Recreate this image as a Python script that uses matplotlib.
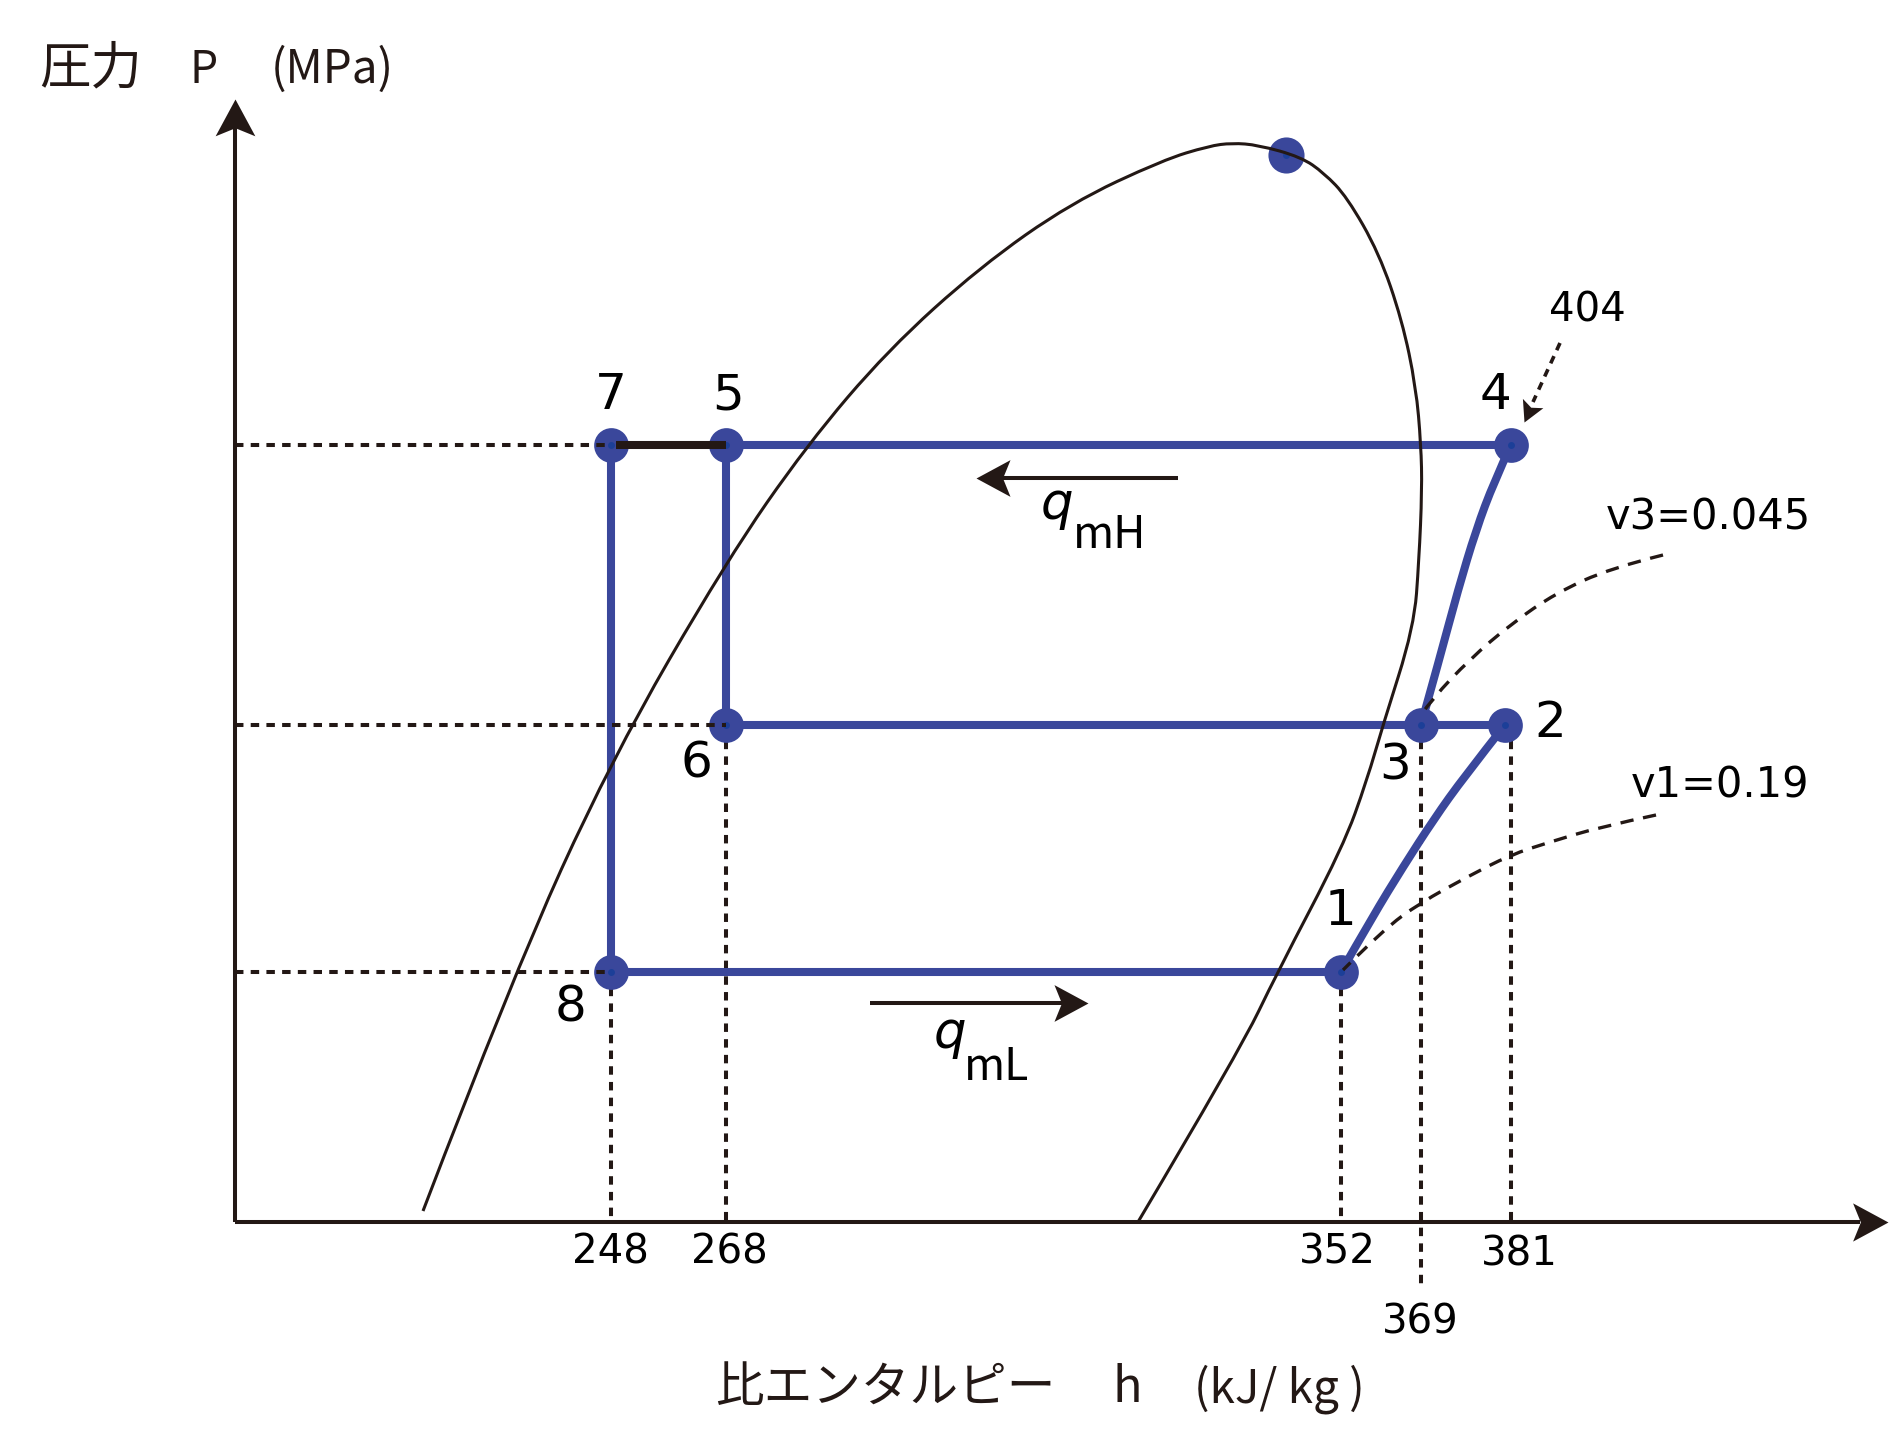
import numpy as np
import matplotlib
matplotlib.use("Agg")
import matplotlib.pyplot as plt
from matplotlib.path import Path
from matplotlib.patches import PathPatch
from matplotlib.markers import MarkerStyle
from matplotlib.transforms import Affine2D

plt.rcParams['font.family'] = ['Noto Sans CJK JP', 'DejaVu Sans']

BLUE = '#3a479b'
INK = '#231815'
NUM = 'DejaVu Sans'

# cycle states, schematic position (h along x, P along y)
state_names = ['1', '2', '3', '4', '5', '6', '7', '8']
state_h = [1106, 1270, 1186, 1276, 491, 491, 376, 376]
state_p = [250, 497, 497, 777, 777, 497, 777, 250]

# saturation dome (liquid line -> critical point -> vapour line)
sat_h = [188, 277, 376, 492, 572, 653, 745, 836, 928, 974, 997, 1023, 1066, 1089,
         1112, 1144, 1167, 1181, 1186, 1187, 1184, 1179, 1148, 1132, 1108, 1042, 1005, 903]
sat_p = [11, 244, 462, 662, 777, 872, 955, 1019, 1062, 1076, 1079, 1077, 1065, 1049,
         1025, 969, 902, 835, 777, 732, 662, 595, 497, 442, 375, 249, 172, 0]
crit_h, crit_p = 1051, 1067

# compression 1->2 and 3->4
comp_low_h = [1106, 1138, 1168, 1199, 1229, 1270]
comp_low_p = [250, 306, 355, 403, 445, 497]
comp_high_h = [1186, 1205, 1223, 1241, 1259, 1276]
comp_high_p = [497, 565, 632, 692, 740, 777]

# specific volume lines
v3_h = [1428, 1376, 1321, 1276, 1235, 1197, 1186]
v3_p = [667, 654, 629, 598, 563, 523, 507]
v1_h = [1421, 1365, 1315, 1275, 1232, 1185, 1148, 1108]
v1_p = [407, 395, 380, 367, 345, 319, 292, 252]

# enthalpy values (kJ/kg) written under the axis
h_values = ['248', '268', '352', '369', '381']
h_value_x = [375, 494, 1102, 1185, 1284]
h_value_y = [-31, -31, -31, -101, -33]

label_x = [1105, 1315, 1160, 1260, 493, 461, 376, 336]
label_y = [311, 499, 456, 827, 827, 458, 827, 215]


def head(angle, notch=0.78, half=0.54):
    verts = [(0, 0), (-1, half), (-notch, 0), (-1, -half), (0, 0)]
    codes = [Path.MOVETO, Path.LINETO, Path.LINETO, Path.LINETO, Path.CLOSEPOLY]
    return MarkerStyle(Path(verts, codes), transform=Affine2D().rotate_deg(angle))


def curve(xs, ys):
    # quadratic b-spline through the read points
    pts = np.column_stack([xs, ys]).astype(float)
    verts = [pts[0]]
    codes = [Path.MOVETO]
    for i in range(1, len(pts) - 1):
        end = (pts[i] + pts[i + 1]) / 2 if i < len(pts) - 2 else pts[i + 1]
        verts += [pts[i], end]
        codes += [Path.CURVE3, Path.CURVE3]
    return Path(verts, codes)


fig = plt.figure(figsize=(18.89, 14.31), dpi=100)
ax = fig.add_axes([0, 0, 1, 1])
ax.set_xlim(-235, 1654)
ax.set_ylim(-209, 1222)
ax.axis('off')

# axes with arrow heads
ax.plot([0, 0], [0, 1095], color=INK, lw=2.9, solid_capstyle='butt')
ax.plot([0, 1625], [0, 0], color=INK, lw=2.9, solid_capstyle='butt')
ax.plot(0, 1123, marker=head(90), ms=53, color=INK, mew=0)
ax.plot(1653, 0, marker=head(0), ms=51, color=INK, mew=0)

# guide lines
guide = dict(color=INK, lw=2.9, dashes=(2.1, 1.8))
for i in [6, 5, 7]:
    ax.plot([0, state_h[i]], [state_p[i], state_p[i]], zorder=6, **guide)
ax.plot([state_h[7], state_h[7]], [state_p[7], 0], zorder=2, **guide)
ax.plot([state_h[5], state_h[5]], [state_p[5], 0], zorder=2, **guide)
ax.plot([state_h[0], state_h[0]], [state_p[0], 0], zorder=2, **guide)
ax.plot([state_h[2], state_h[2]], [state_p[2], -66], zorder=2, **guide)
ax.plot([state_h[3], state_h[3]], [state_p[1], 0], zorder=2, **guide)

# cycle lines
cyc = dict(color=BLUE, lw=5.8, solid_capstyle='butt', zorder=3)
ax.plot([state_h[4], state_h[3]], [state_p[4], state_p[3]], **cyc)
ax.plot([state_h[6], state_h[7]], [state_p[6], state_p[7]], **cyc)
ax.plot([state_h[4], state_h[5]], [state_p[4], state_p[5]], **cyc)
ax.plot([state_h[5], state_h[1]], [state_p[5], state_p[1]], **cyc)
ax.plot([state_h[7], state_h[0]], [state_p[7], state_p[0]], **cyc)
for xs, ys in [(comp_low_h, comp_low_p), (comp_high_h, comp_high_p)]:
    ax.add_patch(PathPatch(curve(xs, ys), fill=False, edgecolor=BLUE, lw=5.8,
                           capstyle='butt', zorder=3))
ax.plot(state_h, state_p, 'o', ms=25, color=BLUE, mew=0, zorder=4)
ax.plot(state_h, state_p, 'o', ms=5, color='#1c3f98', mew=0, zorder=4)
ax.plot([state_h[6] + 5, state_h[4]], [state_p[6], state_p[4]], color=INK, lw=5.8,
        solid_capstyle='butt', zorder=5)

# saturation dome
ax.plot(crit_h, crit_p, 'o', ms=26, color=BLUE, mew=0, zorder=4)
ax.plot(crit_h, crit_p, 'o', ms=5, color='#1c3f98', mew=0, zorder=4)
ax.add_patch(PathPatch(curve(sat_h, sat_p), fill=False, edgecolor=INK, lw=2.2, zorder=5))

# specific volume curves and the 404 pointer
for xs, ys in [(v3_h, v3_p), (v1_h, v1_p)]:
    ax.add_patch(PathPatch(curve(xs, ys), fill=False, edgecolor=INK, lw=2.4,
                           linestyle=(0, (4.0, 2.9)), zorder=6))
ax.plot([1325, 1298], [879, 820], color=INK, lw=2.6, dashes=(2.2, 1.8), zorder=6)
ax.plot(1289, 800, marker=head(-114.5), ms=30, color=INK, mew=0, zorder=6)

# heat flow arrows
ax.plot([943, 766], [744, 744], color=INK, lw=2.9, solid_capstyle='butt')
ax.plot(741, 744, marker=head(180), ms=49, color=INK, mew=0)
ax.plot([635, 828], [219, 219], color=INK, lw=2.9, solid_capstyle='butt')
ax.plot(853, 219, marker=head(0), ms=49, color=INK, mew=0)
ax.text(806, 703, 'q', family='DejaVu Sans', style='italic', fontsize=37, color='black',
        ha='left', va='baseline')
ax.text(838, 674, 'mH', fontsize=32, color='black', ha='left', va='baseline')
ax.text(699, 174, 'q', family='DejaVu Sans', style='italic', fontsize=37, color='black',
        ha='left', va='baseline')
ax.text(729, 142, 'mL', fontsize=32, color='black', ha='left', va='baseline')

# state labels
for name, x, y in zip(state_names, label_x, label_y):
    ax.text(x, y, name, family=NUM, fontsize=36, color='black', ha='center', va='center')

for t, x, y in zip(h_values, h_value_x, h_value_y):
    ax.text(x, y, t, family=NUM, fontsize=29, color='black', ha='center', va='center')

ax.text(1352, 911, '404', family=NUM, fontsize=29, color='black', ha='center', va='center')
ax.text(1473, 705, 'v3=0.045', family=NUM, fontsize=30, color='black', ha='center', va='center')
ax.text(1485, 437, 'v1=0.19', family=NUM, fontsize=30, color='black', ha='center', va='center')

# axis titles
ax.text(-196, 1139, '圧力', fontsize=37, color=INK, ha='left', va='baseline')
ax.text(-31, 1139, 'P', fontsize=32, color=INK, ha='center', va='baseline')
ax.text(97, 1139, '(MPa)', fontsize=33, color=INK, ha='center', va='baseline')
ax.text(480, -180, '比エンタルピー', fontsize=35, color=INK, ha='left', va='baseline')
ax.text(892, -180, 'h', fontsize=35, color=INK, ha='center', va='baseline')
ax.text(959, -180, '(kJ/ kg )', fontsize=33, color=INK, ha='left', va='baseline')

fig.savefig('out.png', dpi=100)
